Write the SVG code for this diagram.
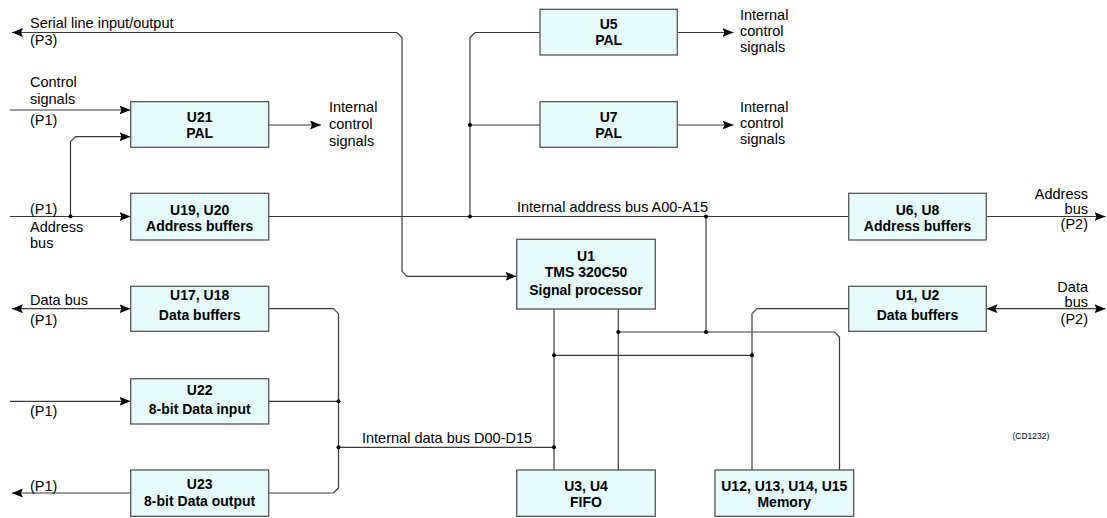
<svg xmlns="http://www.w3.org/2000/svg" width="1107" height="518" viewBox="0 0 1107 518">
<defs>
<style>
.box{fill:#e6fcfc;stroke:#555;stroke-width:1.3}
.bt{font-family:"Liberation Sans",Arial,sans-serif;font-size:14px;font-weight:bold;fill:#000;text-anchor:middle}
.t{font-family:"Liberation Sans",Arial,sans-serif;font-size:14.5px;fill:#000}
.r{text-anchor:end}
.w{fill:none;stroke:#3a3a3a;stroke-width:1.2}
.d{fill:#000}
</style>
<marker id="ah" viewBox="0 0 11 9" refX="11" refY="4.5" markerWidth="11" markerHeight="9" orient="auto-start-reverse" markerUnits="userSpaceOnUse"><path d="M0,0 L11,4.5 L0,9 L2,4.5 z" fill="#000"/></marker>
</defs>
<rect width="1107" height="518" fill="#fff"/>

<g id="connectors">
<path class="w" d="M516.5,276.3 H407 L402,271.3 V37.5 L397,32.5 H12" marker-start="url(#ah)" marker-end="url(#ah)"/>
<path class="w" d="M10,110 H130.5" marker-end="url(#ah)"/>
<path class="w" d="M10,216.5 H130.5" marker-end="url(#ah)"/>
<path class="w" d="M70.5,216.5 V141.7 L75.5,136.7 H130.5" marker-end="url(#ah)"/>
<path class="w" d="M268.5,125 H321" marker-end="url(#ah)"/>
<path class="w" d="M268.5,216.5 H848.5"/>
<path class="w" d="M470,216.5 V37.5 L475,32.5 H540"/>
<path class="w" d="M470,125 H540"/>
<path class="w" d="M677.5,32.5 H733.5" marker-end="url(#ah)"/>
<path class="w" d="M677.5,125 H733.5" marker-end="url(#ah)"/>
<path class="w" d="M706,216.5 V332"/>
<path class="w" d="M986.5,216.5 H1105.5" marker-end="url(#ah)"/>
<path class="w" d="M554,309 V470"/>
<path class="w" d="M618.3,309 V470"/>
<path class="w" d="M618.3,332 H834.5 L839.5,337 V470"/>
<path class="w" d="M554,355.3 H752"/>
<path class="w" d="M848.5,308.7 H757 L752,313.7 V470"/>
<path class="w" d="M986.5,308.7 H1105.5" marker-start="url(#ah)" marker-end="url(#ah)"/>
<path class="w" d="M130.5,308.7 H12" marker-start="url(#ah)" marker-end="url(#ah)"/>
<path class="w" d="M268.5,308.7 H333.5 L338.5,313.7 V488 L333.5,493 H268.5"/>
<path class="w" d="M268.5,401.3 H338.5"/>
<path class="w" d="M338.5,447.3 H554"/>
<path class="w" d="M10,401.3 H130.5" marker-end="url(#ah)"/>
<path class="w" d="M130.5,493 H12" marker-end="url(#ah)"/>
<circle class="d" cx="70.5" cy="216.5" r="2"/>
<circle class="d" cx="470" cy="216.5" r="2"/>
<circle class="d" cx="470" cy="125" r="2"/>
<circle class="d" cx="706" cy="216.5" r="2"/>
<circle class="d" cx="618.3" cy="332" r="2"/>
<circle class="d" cx="706" cy="332" r="2"/>
<circle class="d" cx="554" cy="355.3" r="2"/>
<circle class="d" cx="752" cy="355.3" r="2"/>
<circle class="d" cx="338.5" cy="401.3" r="2"/>
<circle class="d" cx="338.5" cy="447.3" r="2"/>
<circle class="d" cx="554" cy="447.3" r="2"/>
</g>

<g id="labels">
<text class="t" x="30" y="28.3">Serial line input/output</text>
<text class="t" x="30" y="45">(P3)</text>
<text class="t" x="30" y="87">Control</text>
<text class="t" x="30" y="104">signals</text>
<text class="t" x="30" y="124.5">(P1)</text>
<text class="t" x="30" y="214">(P1)</text>
<text class="t" x="30" y="232">Address</text>
<text class="t" x="30" y="248">bus</text>
<text class="t" x="329" y="112">Internal</text>
<text class="t" x="329" y="129">control</text>
<text class="t" x="329" y="146">signals</text>
<text class="t" x="740" y="19.5">Internal</text>
<text class="t" x="740" y="35.5">control</text>
<text class="t" x="740" y="51.5">signals</text>
<text class="t" x="740" y="112">Internal</text>
<text class="t" x="740" y="128">control</text>
<text class="t" x="740" y="144">signals</text>
<text class="t" x="517" y="212.3">Internal address bus A00-A15</text>
<text class="t r" x="1088" y="198.5">Address</text>
<text class="t r" x="1088" y="213.5">bus</text>
<text class="t r" x="1088" y="228.5">(P2)</text>
<text class="t r" x="1088" y="291.5">Data</text>
<text class="t r" x="1088" y="306.5">bus</text>
<text class="t r" x="1088" y="323.5">(P2)</text>
<text class="t" x="30" y="304.7">Data bus</text>
<text class="t" x="30" y="325.3">(P1)</text>
<text class="t" x="30" y="416">(P1)</text>
<text class="t" x="30" y="491">(P1)</text>
<text class="t" x="362" y="442.5">Internal data bus D00-D15</text>
<text x="1012.5" y="438.5" style="font-family:'Liberation Sans',Arial,sans-serif;font-size:8.5px;fill:#000">(CD1232)</text>
</g>

<g id="U21"><rect class="box" x="130.7" y="101.7" width="138" height="45.6"/><text class="bt" x="199.7" y="121.5">U21</text><text class="bt" x="199.7" y="137.5">PAL</text></g>
<g id="U19U20"><rect class="box" x="130.7" y="193.3" width="138" height="46.7"/><text class="bt" x="199.7" y="215">U19, U20</text><text class="bt" x="199.7" y="231">Address buffers</text></g>
<g id="U5"><rect class="box" x="540" y="9.3" width="137.3" height="45.7"/><text class="bt" x="608.7" y="29">U5</text><text class="bt" x="608.7" y="45">PAL</text></g>
<g id="U7"><rect class="box" x="540" y="101.7" width="137.3" height="45.6"/><text class="bt" x="608.7" y="121.5">U7</text><text class="bt" x="608.7" y="137.5">PAL</text></g>
<g id="U6U8"><rect class="box" x="848.7" y="193.3" width="137.6" height="46.7"/><text class="bt" x="917.5" y="215">U6, U8</text><text class="bt" x="917.5" y="231">Address buffers</text></g>
<g id="U1"><rect class="box" x="516.7" y="239.3" width="138.6" height="69.7"/><text class="bt" x="586" y="261">U1</text><text class="bt" x="586" y="277.3">TMS 320C50</text><text class="bt" x="586" y="294.5">Signal processor</text></g>
<g id="U1U2"><rect class="box" x="848.7" y="286.3" width="137.6" height="45"/><text class="bt" x="917.5" y="300">U1, U2</text><text class="bt" x="917.5" y="320">Data buffers</text></g>
<g id="U17U18"><rect class="box" x="130.7" y="286.3" width="138" height="45"/><text class="bt" x="199.7" y="300">U17, U18</text><text class="bt" x="199.7" y="320">Data buffers</text></g>
<g id="U22"><rect class="box" x="130.7" y="378.7" width="138" height="45.3"/><text class="bt" x="199.7" y="395.3">U22</text><text class="bt" x="199.7" y="413.7">8-bit Data input</text></g>
<g id="U23"><rect class="box" x="130.7" y="470" width="138" height="46.3"/><text class="bt" x="199.7" y="488.7">U23</text><text class="bt" x="199.7" y="505.5">8-bit Data output</text></g>
<g id="U3U4"><rect class="box" x="516.7" y="470" width="138.6" height="46.3"/><text class="bt" x="586" y="490.7">U3, U4</text><text class="bt" x="586" y="506.5">FIFO</text></g>
<g id="Memory"><rect class="box" x="715" y="470" width="138.7" height="46.3"/><text class="bt" x="784.3" y="490.7">U12, U13, U14, U15</text><text class="bt" x="784.3" y="506.5">Memory</text></g>
</svg>
